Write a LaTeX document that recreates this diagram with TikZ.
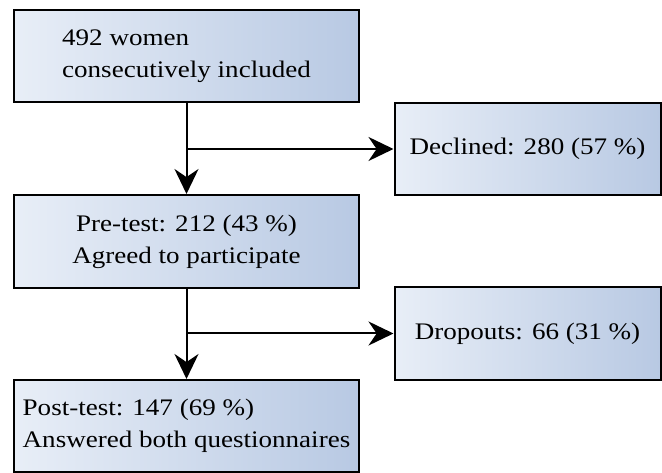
\documentclass[tikz,border=0pt]{standalone}
\usepackage{fontspec}
\setmainfont{Liberation Serif}[FakeStretch=1.14]
\usetikzlibrary{arrows.meta, positioning, calc}
\definecolor{boxleft}{RGB}{232, 238, 247}
\definecolor{boxright}{RGB}{184, 201, 227}

\begin{document}
\begin{tikzpicture}[x=0.75pt, y=-0.75pt,
    every node/.style={font=\fontsize{17.8}{24}\selectfont},
    box/.style={draw, line width=1.5pt, left color=boxleft, right color=boxright, inner sep=0pt},
    mainbox/.style={box, minimum width=258.75pt, minimum height=69pt},
    sidebox/.style={box, minimum width=199.5pt, minimum height=69pt, align=center},
    arr/.style={line width=1.5pt, -{Stealth[length=18.75pt, width=18pt]}}]
  \useasboundingbox (0,0) rectangle (662,473);

  % main column
  \node[mainbox, align=left] (women) at (186.5,56) {492 women\\consecutively included};
  \node[mainbox, align=center, minimum height=69.75pt] (pretest) at (186.5,241.5) {Pre-test: 212 (43 \%)\\Agreed to participate};
  \node[mainbox, align=left] (posttest) at (186.5,426) {Post-test: 147 (69 \%)\\Answered both questionnaires};

  % side boxes
  \node[sidebox] (declined) at (527.5,149) {Declined: 280 (57 \%)};
  \node[sidebox, minimum height=69.75pt] (dropouts) at (527.5,333.5) {Dropouts: 66 (31 \%)};

  \draw[arr] (women) -- (pretest);
  \draw[arr] (women.south |- declined.west) -- (declined.west);
  \draw[arr] (pretest) -- (posttest);
  \draw[arr] (pretest.south |- dropouts.west) -- (dropouts.west);
\end{tikzpicture}
\end{document}
